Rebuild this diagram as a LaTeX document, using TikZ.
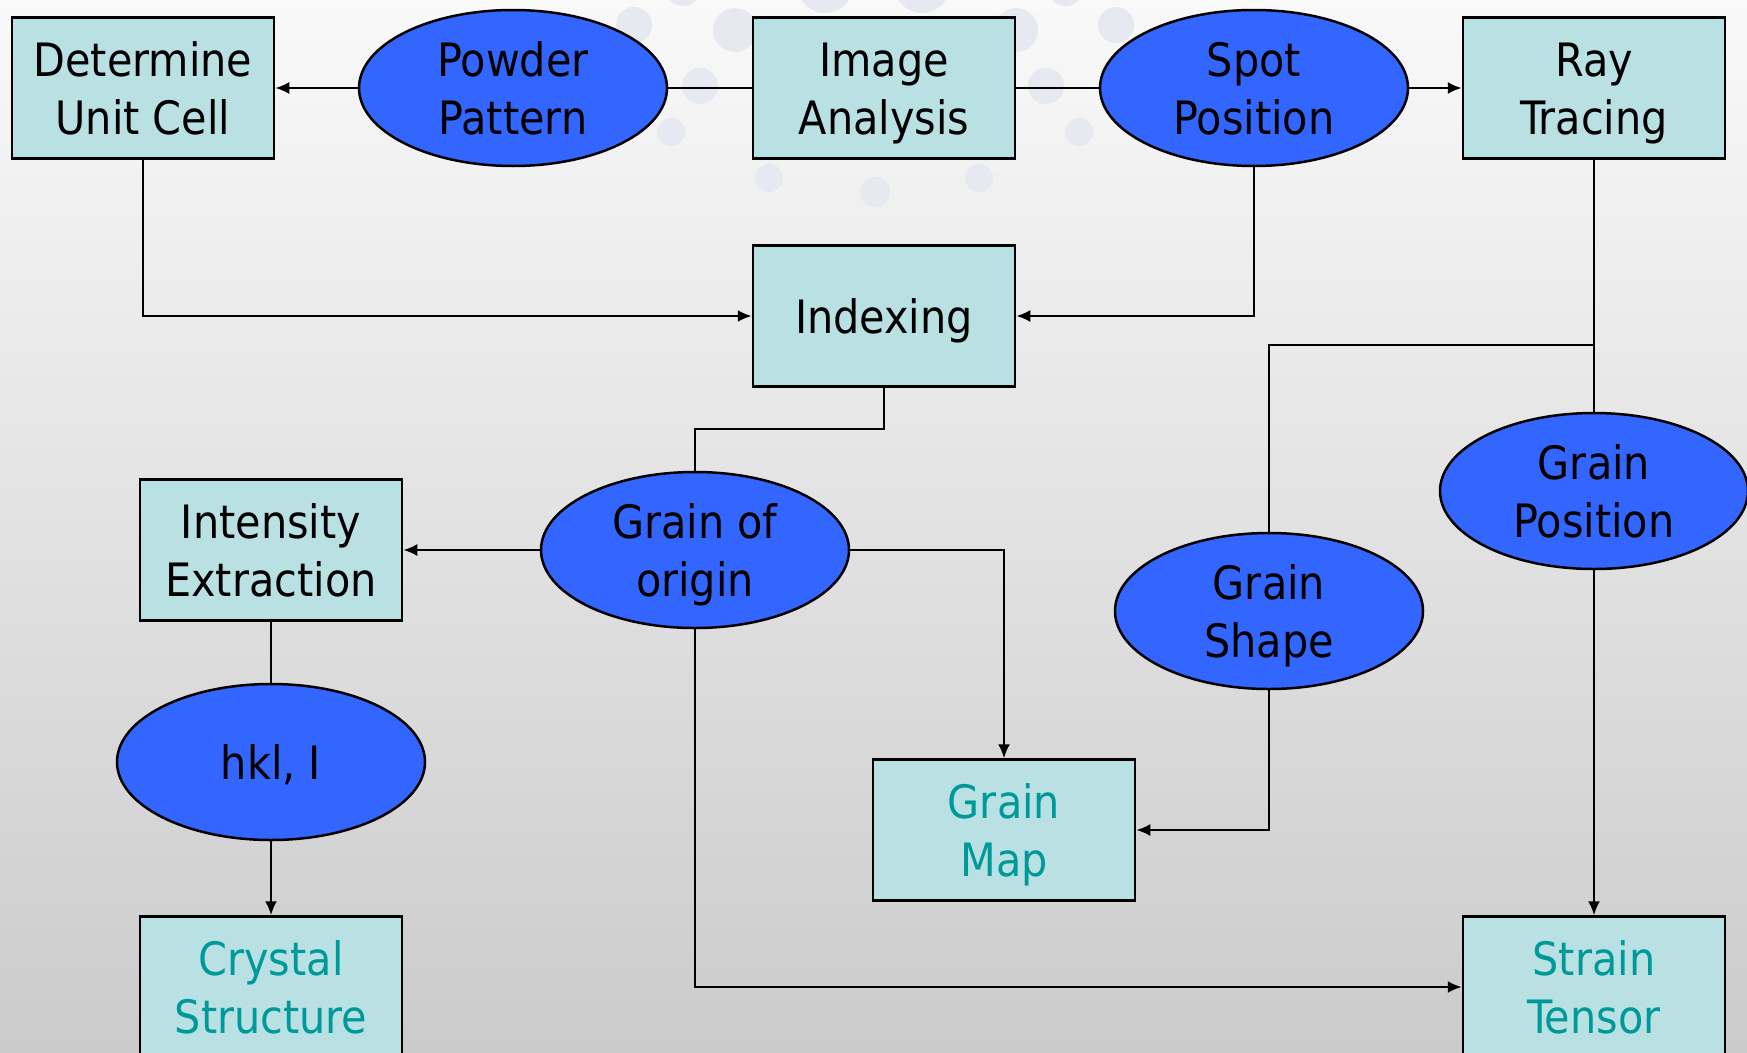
\documentclass[tikz,border=0pt]{standalone}
\usepackage{fontspec}
\setmainfont{DejaVu Sans Condensed}
\usetikzlibrary{shapes.geometric,arrows.meta}
\definecolor{boxfill}{HTML}{B9E0E3}
\definecolor{ellfill}{HTML}{3366FF}
\definecolor{tealtxt}{HTML}{009999}
\definecolor{dotc}{HTML}{E6E9EF}
\definecolor{bgtop}{HTML}{F9F9F9}
\definecolor{bgbot}{HTML}{CBCBCB}
\begin{document}
\begin{tikzpicture}[x=1pt,y=-1pt,
  box/.style={draw=black,line width=2.5pt,fill=boxfill,minimum width=262pt,minimum height=141pt,inner sep=0pt,align=center,font=\fontsize{46}{58}\selectfont},
  ell/.style={ellipse,draw=black,line width=2.5pt,fill=ellfill,minimum width=308pt,minimum height=156pt,inner sep=0pt,align=center,font=\fontsize{46}{58}\selectfont},
  two/.style={text height=92pt,text depth=0pt},
  one/.style={text height=34pt,text depth=0pt},
  conn/.style={line width=2.2pt},
  arr/.style={conn,-{Latex[length=14pt,width=12pt]}},
  dot/.style={fill=dotc}]
\useasboundingbox (0,0) rectangle (1747,1052);
\clip (0,0) rectangle (1747,1052);
\shade[top color=bgtop,bottom color=bgbot] (0,0) rectangle (1747,1052);
% background dots
\foreach \x/\y/\r in {634/25/18,735/30/22,700/86/18,671/132/14,769/178/14,875/192/15,979/178/14,1079/132/14,1046/86/18,1016/30/22,1116/25/18,683/-12/18,825/-15/28,922/-15/28,1066/-12/18}
  \fill[dot] (\x,\y) circle[radius=\r];
% nodes
\node[box,two] (DUC) at (143,88) {Determine\\Unit Cell};
\node[ell,two] (PP) at (513,88) {Powder\\Pattern};
\node[box,two] (IA) at (884,88) {Image\\Analysis};
\node[ell,two] (SP) at (1254,88) {Spot\\Position};
\node[box,two] (RT) at (1594,88) {Ray\\Tracing};
\node[box,one] (IDX) at (884,316) {Indexing};
\node[ell,two] (GO) at (695,550) {Grain of\\origin};
\node[box,two] (IE) at (271,550) {Intensity\\Extraction};
\node[ell,one] (HKL) at (271,762) {hkl, I};
\node[box,two,text=tealtxt] (CS) at (271,987) {Crystal\\Structure};
\node[box,two,text=tealtxt] (GM) at (1004,830) {Grain\\Map};
\node[ell,two] (GS) at (1269,611) {Grain\\Shape};
\node[ell,two] (GP) at (1594,491) {Grain\\Position};
\node[box,two,text=tealtxt] (ST) at (1594,987) {Strain\\Tensor};
% connectors
\coordinate (br) at (1594,345);
\coordinate (kn) at (884,429);
\draw[arr] (PP.west) -- (DUC.east);
\draw[conn] (PP.east) -- (IA.west);
\draw[conn] (IA.east) -- (SP.west);
\draw[arr] (SP.east) -- (RT.west);
\draw[arr] (DUC.south) |- (IDX.west);
\draw[arr] (SP.south) |- (IDX.east);
\draw[conn] (RT.south) -- (GP.north);
\draw[conn] (br) -| (GS.north);
\draw[conn] (IDX.south) -- (kn) -| (GO.north);
\draw[arr] (GO.west) -- (IE.east);
\draw[arr] (GO.east) -| (GM.north);
\draw[arr] (GO.south) |- (ST.west);
\draw[conn] (IE.south) -- (HKL.north);
\draw[arr] (HKL.south) -- (CS.north);
\draw[arr] (GS.south) |- (GM.east);
\draw[arr] (GP.south) -- (ST.north);
\end{tikzpicture}
\end{document}
